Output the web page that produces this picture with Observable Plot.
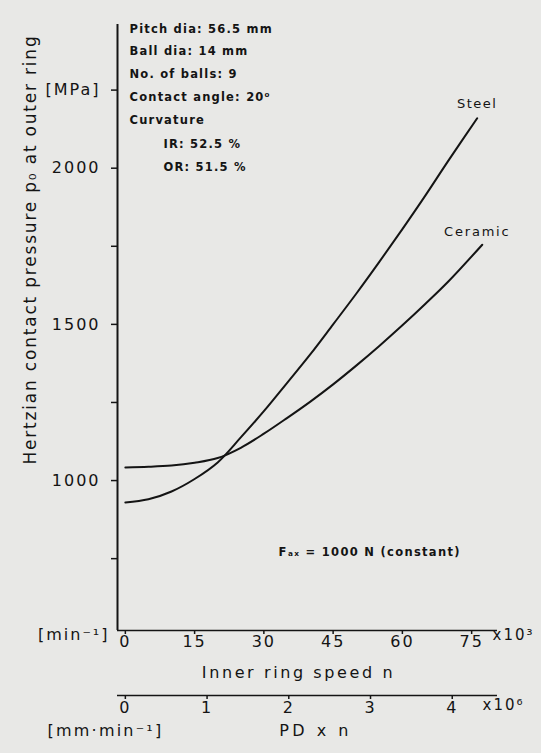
<!DOCTYPE html>
<html><head><meta charset="utf-8">
<script src="https://cdn.jsdelivr.net/npm/d3@7"></script>
<script src="https://cdn.jsdelivr.net/npm/@observablehq/plot@0.6"></script>
<style>
html,body{margin:0;padding:0;background:#e8e8e6;}
#chart svg{display:block;}
</style>
</head><body><div id="chart"></div>
<script>
// ---- data ----
const pitchDiameter = 56.5; // mm
const speedDomain = [-1.7, 80.6];          // inner ring speed, x10^3 min^-1
const pressureDomain = [520, 2460];        // MPa
const speedTicks = [0, 15, 30, 45, 60, 75];
const pdTicks = [0, 1, 2, 3, 4];           // PD x n, x10^6 mm/min
const pressureTicks = [750, 1000, 1250, 1500, 1750, 2000, 2250];
const pressureTickLabels = {1000: "1000", 1500: "1500", 2000: "2000", 2250: "[MPa]"};

const steelSpeed = [0, 5, 10, 15, 20, 25, 30, 35, 40, 45, 50, 55, 60, 65, 70, 76.2];
const steelPressure = [930, 940, 965, 1005, 1058, 1138, 1222, 1312, 1403, 1500, 1598, 1700, 1805, 1913, 2025, 2160];
const ceramicSpeed = [0, 5, 10, 15, 20, 25, 30, 35, 40, 45, 50, 55, 60, 65, 70, 77.3];
const ceramicPressure = [1042, 1044, 1048, 1057, 1072, 1105, 1150, 1200, 1252, 1308, 1368, 1431, 1497, 1566, 1638, 1755];

const paramLines = ["Pitch dia: 56.5 mm", "Ball dia: 14 mm", "No. of balls: 9", "Contact angle: 20\u2070", "Curvature"];
const curvatureLines = ["IR: 52.5 %", "OR: 51.5 %"];
const loadNote = "F\u2090\u2093 = 1000 N (constant)";
const yLabel = "Hertzian contact pressure p\u2080 at outer ring";
const xLabel = "Inner ring speed n";
const xUnit = "[min\u207B\u00B9]";
const xFactor = "x10\u00B3";
const pdLabel = "PD x n";
const pdUnit = "[mm\u00B7min\u207B\u00B9]";
const pdFactor = "x10\u2076";

// ---- build ----
const steel = steelSpeed.map((s, i) => ({speed: s, p: steelPressure[i], name: "Steel"}));
const ceramic = ceramicSpeed.map((s, i) => ({speed: s, p: ceramicPressure[i], name: "Ceramic"}));
const ink = "#141414";
const font = "'DejaVu Sans', sans-serif";
const baseStyle = {background: "transparent", fontFamily: font, fontSize: "16px", color: ink, overflow: "visible", letterSpacing: "2px"};

const main = Plot.plot({
  width: 541, height: 688,
  marginLeft: 117, marginRight: 44, marginTop: 24, marginBottom: 58,
  style: baseStyle,
  x: {domain: speedDomain},
  y: {domain: pressureDomain},
  marks: [
    Plot.ruleX([speedDomain[0]], {stroke: ink, strokeWidth: 2}),
    Plot.ruleY([pressureDomain[0]], {stroke: ink, strokeWidth: 1.6}),
    Plot.axisY({ticks: pressureTicks, tickFormat: d => pressureTickLabels[d] ?? "", tickSize: 6, tickPadding: 11, label: null, fontSize: 16, stroke: ink, strokeWidth: 1.5, fill: ink}),
    Plot.axisX({ticks: speedTicks, tickFormat: d => String(d), tickSize: 4, tickPadding: 1, label: null, fontSize: 16, stroke: ink, strokeWidth: 1.5, fill: ink}),
    Plot.line(steel, {x: "speed", y: "p", stroke: ink, strokeWidth: 2, curve: "catmull-rom"}),
    Plot.line(ceramic, {x: "speed", y: "p", stroke: ink, strokeWidth: 2, curve: "catmull-rom"}),
    Plot.text(steel.slice(-1), {x: "speed", y: "p", text: "name", dy: -14, fontSize: 13, fill: ink}),
    Plot.text(ceramic.slice(-1), {x: "speed", y: "p", text: "name", dy: -13, dx: -5, fontSize: 13, fill: ink}),
    Plot.text([yLabel], {frameAnchor: "left", textAnchor: "middle", rotate: -90, dx: -87, dy: -78, fontSize: 17, fill: ink}),
    Plot.text([xLabel], {frameAnchor: "bottom", textAnchor: "middle", dx: -9, dy: 47, fontSize: 16, fill: ink}),
    Plot.text([xUnit], {frameAnchor: "bottom-left", textAnchor: "end", dx: -8, dy: 9, fontSize: 16, fill: ink}),
    Plot.text([xFactor], {frameAnchor: "bottom-right", textAnchor: "start", dx: -5, dy: 9, fontSize: 15, fill: ink}),
    Plot.text([paramLines.join("\n")], {frameAnchor: "top-left", textAnchor: "start", lineAnchor: "top", lineHeight: 1.98, dx: 12, dy: -8, fontSize: 11.5, fontWeight: "bold", fill: ink}),
    Plot.text([curvatureLines.join("\n")], {frameAnchor: "top-left", textAnchor: "start", lineAnchor: "top", lineHeight: 2.0, dx: 46, dy: 107, fontSize: 11.5, fontWeight: "bold", fill: ink}),
    Plot.text([loadNote], {frameAnchor: "bottom-left", textAnchor: "start", dx: 161, dy: -75, fontSize: 11.5, fontWeight: "bold", fill: ink})
  ]
});

const pdDomain = speedDomain.map(v => v * pitchDiameter / 1000);
const second = Plot.plot({
  width: 541, height: 65,
  marginLeft: 117, marginRight: 44, marginTop: 0, marginBottom: 58,
  style: baseStyle,
  x: {domain: pdDomain},
  y: {domain: [0, 1], axis: null},
  marks: [
    Plot.ruleY([0], {stroke: ink, strokeWidth: 1.6}),
    Plot.axisX({ticks: pdTicks, tickFormat: d => String(d), tickSize: 4, tickPadding: 2, label: null, fontSize: 16, stroke: ink, strokeWidth: 1.5, fill: ink}),
    Plot.text([pdFactor], {frameAnchor: "bottom-right", textAnchor: "start", dx: -15, dy: 14, fontSize: 15, fill: ink}),
    Plot.text([pdUnit], {frameAnchor: "bottom-left", textAnchor: "middle", dx: -12, dy: 40, fontSize: 16, fill: ink}),
    Plot.text([pdLabel], {frameAnchor: "bottom", textAnchor: "middle", dx: 8, dy: 40, fontSize: 16, fill: ink})
  ]
});

// letter spacing per text, to approach the wide lettering of the original
const spacing = new Map([
  [yLabel, "1.8px"], [xLabel, "2.6px"], [pdLabel, "3.5px"], [pdUnit, "2.2px"],
  [loadNote, "1.3px"], ["Steel", "1.5px"], ["Ceramic", "1.8px"]
]);
for (const svg of [main, second]) {
  for (const t of svg.querySelectorAll("text")) {
    const s = spacing.get(t.textContent);
    if (s) t.style.letterSpacing = s;
  }
  for (const t of svg.querySelectorAll("text tspan")) {
    if (paramLines.includes(t.textContent) || curvatureLines.includes(t.textContent)) t.parentNode.style.letterSpacing = "1.2px";
  }
}

document.getElementById("chart").append(main, second);
</script>
</body></html>
